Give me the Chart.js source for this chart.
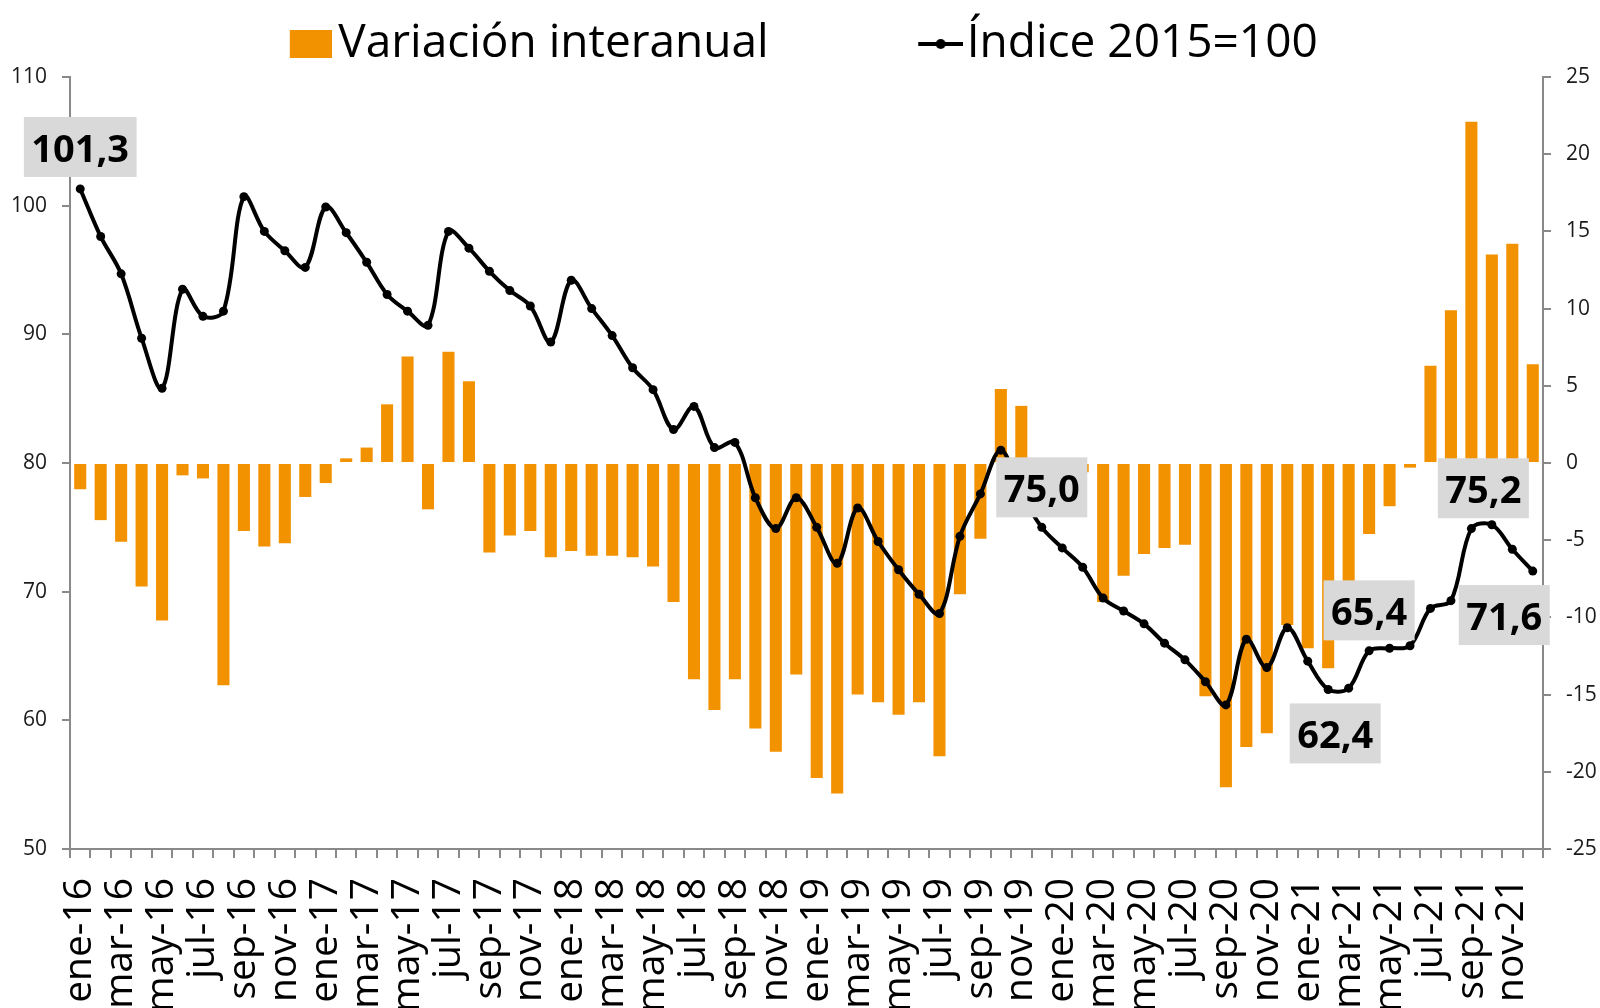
<!DOCTYPE html>
<html>
<head>
<meta charset="utf-8">
<script src="https://cdn.jsdelivr.net/npm/chart.js@4.4.1/dist/chart.umd.min.js"></script>
<style>
html,body{margin:0;padding:0;background:#fff;overflow:hidden}
#wrap{width:1600px;height:1008px}
</style>
</head>
<body>
<div id="wrap"><canvas id="c" width="1600" height="1008"></canvas></div>
<script>
// ---- data ----
const categories = [
 'ene-16','feb-16','mar-16','abr-16','may-16','jun-16','jul-16','ago-16','sep-16','oct-16','nov-16','dic-16',
 'ene-17','feb-17','mar-17','abr-17','may-17','jun-17','jul-17','ago-17','sep-17','oct-17','nov-17','dic-17',
 'ene-18','feb-18','mar-18','abr-18','may-18','jun-18','jul-18','ago-18','sep-18','oct-18','nov-18','dic-18',
 'ene-19','feb-19','mar-19','abr-19','may-19','jun-19','jul-19','ago-19','sep-19','oct-19','nov-19','dic-19',
 'ene-20','feb-20','mar-20','abr-20','may-20','jun-20','jul-20','ago-20','sep-20','oct-20','nov-20','dic-20',
 'ene-21','feb-21','mar-21','abr-21','may-21','jun-21','jul-21','ago-21','sep-21','oct-21','nov-21','dic-21'
];
const variacion = [
 -1.7, -3.7, -5.1, -8.0, -10.2, -0.8, -1.0, -14.4, -4.4, -5.4, -5.2, -2.2,
 -1.3, 0.3, 1.0, 3.8, 6.9, -3.0, 7.2, 5.3, -5.8, -4.7, -4.4, -6.1,
 -5.7, -6.0, -6.0, -6.1, -6.7, -9.0, -14.0, -16.0, -14.0, -17.2, -18.7, -13.7,
 -20.4, -21.4, -15.0, -15.5, -16.3, -15.5, -19.0, -8.5, -4.9, 4.8, 3.7, -2.9,
 -2.2, -0.6, -9.0, -7.3, -5.9, -5.5, -5.3, -15.1, -21.0, -18.4, -17.5, -10.5,
 -12.0, -13.3, -10.2, -4.6, -2.8, -0.3, 6.3, 9.9, 22.1, 13.5, 14.2, 6.4
];
const indice = [
 101.3, 97.6, 94.7, 89.7, 85.8, 93.5, 91.4, 91.8, 100.7, 98.0, 96.5, 95.2,
 99.9, 97.9, 95.6, 93.1, 91.8, 90.7, 98.0, 96.7, 94.9, 93.4, 92.2, 89.4,
 94.2, 92.0, 89.9, 87.4, 85.7, 82.6, 84.4, 81.2, 81.6, 77.3, 74.9, 77.3,
 75.0, 72.2, 76.5, 73.9, 71.7, 69.8, 68.3, 74.3, 77.6, 81.0, 77.6, 75.0,
 73.4, 71.9, 69.5, 68.5, 67.5, 66.0, 64.7, 63.0, 61.2, 66.3, 64.1, 67.2,
 64.6, 62.4, 62.5, 65.4, 65.6, 65.8, 68.7, 69.3, 74.9, 75.2, 73.3, 71.6
];
const seriesNames = ['Variación interanual', 'Índice 2015=100'];
const leftAxisTicks = [50, 60, 70, 80, 90, 100, 110];
const rightAxisTicks = [-25, -20, -15, -10, -5, 0, 5, 10, 15, 20, 25];
const labeledPoints = [0, 47, 61, 63, 69, 71];

// ---- styles (not data) ----
const ORANGE = '#F39200';
const AXIS = '#898989';
const FONT = '"Open Sans", "Liberation Sans", sans-serif';
const labelOffsets = {
  0:  {dx: 0,    dy: -42},
  47: {dx: 0,    dy: -40},
  61: {dx: 7,    dy: 44},
  63: {dx: 0,    dy: -40.5},
  69: {dx: -8.5, dy: -36.5},
  71: {dx: -28.5,dy: 44}
};
const LEGEND_PAD = 155;

Chart.defaults.font.family = FONT;

// legend symbols
function squareSymbol() {
  const c = document.createElement('canvas');
  c.width = 53; c.height = 30;
  const g = c.getContext('2d');
  g.fillStyle = ORANGE;
  g.fillRect(11, 1, 42, 28);
  return c;
}
function lineSymbol() {
  const c = document.createElement('canvas');
  c.width = 59; c.height = 14;
  const g = c.getContext('2d');
  g.strokeStyle = '#000'; g.lineWidth = 4;
  g.beginPath(); g.moveTo(14, 7); g.lineTo(59, 7); g.stroke();
  g.fillStyle = '#000';
  g.beginPath(); g.arc(36.5, 7, 5, 0, Math.PI * 2); g.fill();
  return c;
}
const legendSymbols = [squareSymbol(), lineSymbol()];

const boxLabels = {
  id: 'boxLabels',
  afterDraw(chart) {
    const meta = chart.getDatasetMeta(1);
    const ctx = chart.ctx;
    ctx.save();
    ctx.font = 'bold 38px ' + FONT;
    labeledPoints.forEach(i => {
      const el = meta.data[i];
      const st = labelOffsets[i];
      const txt = indice[i].toFixed(1).replace('.', ',');
      const tw = ctx.measureText(txt).width;
      const w = tw + 15, h = 60;
      const cx = el.x + st.dx, cy = el.y + st.dy;
      ctx.fillStyle = '#D9D9D9';
      ctx.fillRect(cx - w / 2, cy - h / 2, w, h);
      ctx.fillStyle = '#000';
      ctx.textAlign = 'center';
      ctx.textBaseline = 'alphabetic';
      ctx.fillText(txt, cx, cy + 15);
    });
    ctx.restore();
  }
};

new Chart(document.getElementById('c'), {
  type: 'bar',
  data: {
    labels: categories,
    datasets: [
      {
        type: 'bar',
        label: seriesNames[0],
        data: variacion,
        yAxisID: 'y1',
        backgroundColor: ORANGE,
        borderWidth: 0,
        barPercentage: 0.59,
        categoryPercentage: 1,
        order: 1
      },
      {
        type: 'line',
        label: seriesNames[1],
        data: indice,
        yAxisID: 'y',
        borderColor: '#000',
        backgroundColor: '#000',
        borderWidth: 4,
        pointRadius: 4.5,
        pointBackgroundColor: '#000',
        pointBorderWidth: 0,
        tension: 0.35,
        order: 0
      }
    ]
  },
  options: {
    responsive: false,
    animation: false,
    devicePixelRatio: 1,
    layout: {padding: 0},
    plugins: {
      tooltip: {enabled: false},
      legend: {
        position: 'top',
        align: 'center',
        fullSize: false,
        title: {display: true, text: '', font: {size: 1, lineHeight: 1}, padding: {top: 0, bottom: 13.5 - LEGEND_PAD}},
        labels: {
          usePointStyle: true,
          pointStyleWidth: 20,
          padding: LEGEND_PAD,
          color: '#000',
          font: {size: 46},
          generateLabels(chart) {
            return chart.data.datasets.map((ds, i) => ({
              text: ds.label,
              pointStyle: legendSymbols[i],
              fillStyle: i === 0 ? ORANGE : '#000',
              strokeStyle: 'rgba(0,0,0,0)',
              lineWidth: 0,
              hidden: false,
              datasetIndex: i,
              fontColor: '#000'
            }));
          }
        }
      }
    },
    scales: {
      x: {
        offset: true,
        grid: {display: true, drawOnChartArea: false, drawTicks: true, tickLength: 9, color: AXIS, lineWidth: 2, offset: true},
        border: {display: true, color: AXIS, width: 2},
        ticks: {
          autoSkip: false,
          maxRotation: 90,
          minRotation: 90,
          padding: 20,
          color: '#000',
          font: {size: 39},
          callback: (v, i) => (i % 2 === 0 ? categories[i] : '')
        },
        afterFit(s) { s.height = 159; s.paddingLeft = 0; s.paddingRight = 0; }
      },
      y: {
        position: 'left',
        min: leftAxisTicks[0],
        max: leftAxisTicks[leftAxisTicks.length - 1],
        afterBuildTicks(s) { s.ticks = leftAxisTicks.map(v => ({value: v})); },
        grid: {display: true, drawOnChartArea: false, drawTicks: true, tickLength: 8, color: AXIS, lineWidth: 2},
        border: {display: true, color: AXIS, width: 2},
        ticks: {padding: 15, color: '#1a1a1a', font: {size: 21}},
        afterFit(s) { s.width = 70; s.paddingTop = 77; }
      },
      y1: {
        position: 'right',
        min: rightAxisTicks[0],
        max: rightAxisTicks[rightAxisTicks.length - 1],
        afterBuildTicks(s) { s.ticks = rightAxisTicks.map(v => ({value: v})); },
        grid: {display: true, drawOnChartArea: false, drawTicks: true, tickLength: 8, color: AXIS, lineWidth: 2},
        border: {display: true, color: AXIS, width: 2},
        ticks: {padding: 15, color: '#1a1a1a', font: {size: 21}},
        afterFit(s) { s.width = 57; }
      }
    }
  },
  plugins: [boxLabels]
});
</script>
</body>
</html>
